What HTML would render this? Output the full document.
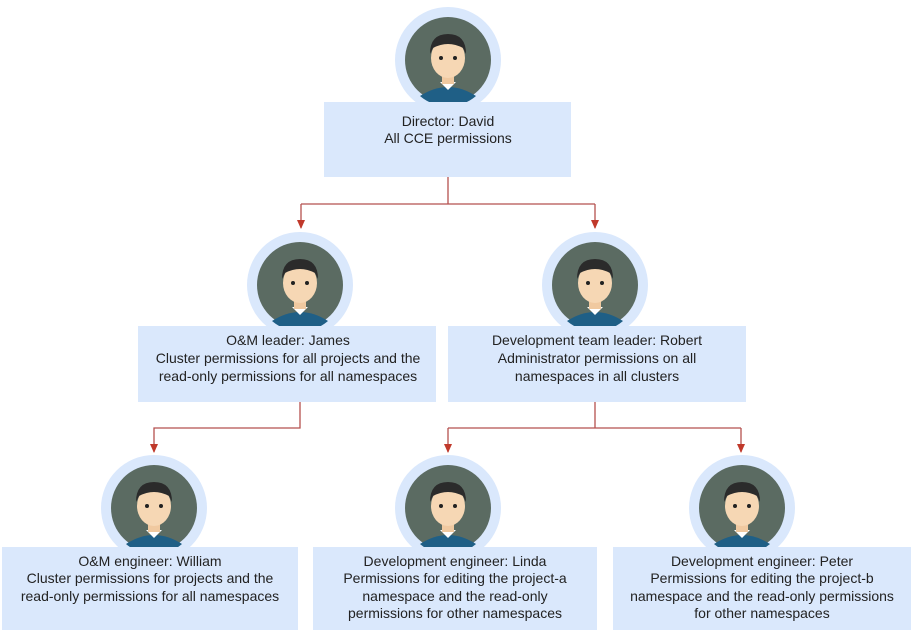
<!DOCTYPE html>
<html><head><style>body{margin:0;background:#fff}svg{display:block}text{font-family:"Liberation Sans",sans-serif;font-size:14px;fill:#222;text-anchor:middle}</style></head><body>
<svg width="918" height="637" viewBox="0 0 918 637">
<defs>
<marker id="a" markerWidth="10" markerHeight="10" refX="8" refY="5" orient="auto" markerUnits="userSpaceOnUse"><path d="M0,1 L9,5 L0,9 Z" fill="#c0392b"/></marker>
<g id="av">
<circle r="53" fill="#dae8fc"/>
<circle r="43" fill="#5b6b62"/>
<path d="M-28,36 Q0,18 28,36 A43,43 0 0 1 -28,36Z" fill="#1f5f86"/>
<path d="M-8,22 L0,30 L8,22Z" fill="#fff"/>
<rect x="-6" y="10" width="12" height="14" fill="#f0c9a0"/>
<ellipse cx="0" cy="-2" rx="17" ry="20" fill="#f6d7b4"/>
<path d="M-18,-6 Q-18,-26 0,-26 Q18,-26 18,-6 L15,-12 Q0,-20 -15,-12Z" fill="#2b2b2b"/>
<circle cx="-7" cy="-2" r="2" fill="#222"/><circle cx="7" cy="-2" r="2" fill="#222"/>
</g>
</defs>
<g stroke="#b5504f" stroke-width="1.3" fill="none">
<path d="M448,177 V204 M301,204 H595"/>
<path d="M301,204 V228" marker-end="url(#a)"/><path d="M595,204 V228" marker-end="url(#a)"/>
<path d="M300,402 V428 H154 V452" marker-end="url(#a)"/>
<path d="M595,402 V428 M448,428 H741"/>
<path d="M448,428 V452" marker-end="url(#a)"/><path d="M741,428 V452" marker-end="url(#a)"/>
</g>
<use href="#av" x="448" y="60"/>
<use href="#av" x="300" y="285"/>
<use href="#av" x="595" y="285"/>
<use href="#av" x="154" y="508"/>
<use href="#av" x="448" y="508"/>
<use href="#av" x="742" y="508"/>
<g fill="#dae8fc">
<rect x="324" y="102" width="247" height="75"/>
<rect x="138" y="326" width="298" height="76"/>
<rect x="448" y="326" width="298" height="76"/>
<rect x="2" y="547" width="296" height="83"/>
<rect x="313" y="547" width="284" height="83"/>
<rect x="613" y="547" width="298" height="83"/>
</g>
<text x="448" y="126">Director: David</text>
<text x="448" y="143">All CCE permissions</text>
<text x="288" y="345">O&amp;M leader: James</text>
<text x="288" y="363">Cluster permissions for all projects and the</text>
<text x="288" y="381">read-only permissions for all namespaces</text>
<text x="597" y="345">Development team leader: Robert</text>
<text x="597" y="363">Administrator permissions on all</text>
<text x="597" y="381">namespaces in all clusters</text>
<text x="150" y="566">O&amp;M engineer: William</text>
<text x="150" y="583">Cluster permissions for projects and the</text>
<text x="150" y="601">read-only permissions for all namespaces</text>
<text x="455" y="566">Development engineer: Linda</text>
<text x="455" y="583">Permissions for editing the project-a</text>
<text x="455" y="601">namespace and the read-only</text>
<text x="455" y="618">permissions for other namespaces</text>
<text x="762" y="566">Development engineer: Peter</text>
<text x="762" y="583">Permissions for editing the project-b</text>
<text x="762" y="601">namespace and the read-only permissions</text>
<text x="762" y="618">for other namespaces</text>
</svg>
</body></html>
